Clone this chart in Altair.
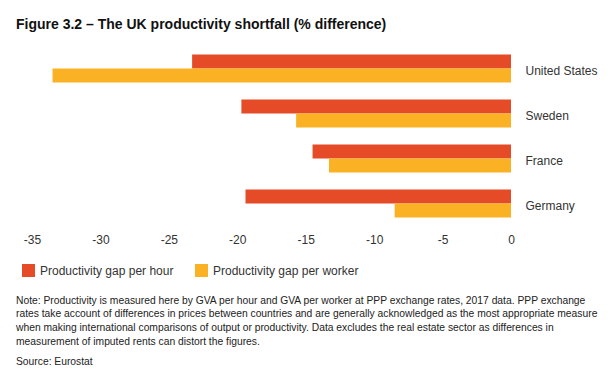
import altair as alt
import pandas as pd

countries = ["United States", "Sweden", "France", "Germany"]
per_hour = [-23.3, -19.7, -14.5, -19.4]
per_worker = [-33.5, -15.7, -13.3, -8.5]
series = ["Productivity gap per hour", "Productivity gap per worker"]
colors = ["#E54B26", "#FBB124"]
x_ticks = [-35, -30, -25, -20, -15, -10, -5, 0]

title_text = "Figure 3.2 \u2013 The UK productivity shortfall (% difference)"
note_lines = [
    "Note: Productivity is measured here by GVA per hour and GVA per worker at PPP exchange rates, 2017 data. PPP exchange",
    "rates take account of differences in prices between countries and are generally acknowledged as the most appropriate measure",
    "when making international comparisons of output or productivity. Data excludes the real estate sector as differences in",
    "measurement of imputed rents can distort the figures.",
]
source_text = "Source: Eurostat"

rows = []
for c, h, w in zip(countries, per_hour, per_worker):
    rows.append({"country": c, "series": series[0], "value": h})
    rows.append({"country": c, "series": series[1], "value": w})
df = pd.DataFrame(rows)

FONT = "Liberation Sans"

bars = alt.Chart(df).mark_bar().encode(
    x=alt.X("value:Q",
            scale=alt.Scale(domain=[-35, 0], nice=False, zero=True),
            axis=alt.Axis(values=x_ticks, title=None, domain=False, ticks=False,
                          grid=False, labelFont=FONT, labelFontSize=12,
                          labelColor="#333333", labelPadding=8, labelFlush=False,
                          labelExpr="'' + datum.value")),
    y=alt.Y("country:N", sort=countries,
            scale=alt.Scale(paddingInner=0.376, paddingOuter=0.188),
            axis=alt.Axis(orient="right", title=None, domain=False, ticks=False,
                          grid=False, labelFont=FONT, labelFontSize=12,
                          labelColor="#333333", labelPadding=14, labelAlign="left",
                          labelOffset=2)),
    yOffset=alt.YOffset("series:N", sort=series, scale=alt.Scale(paddingInner=0, paddingOuter=0)),
    color=alt.Color("series:N", sort=series,
                    scale=alt.Scale(domain=series, range=colors),
                    legend=alt.Legend(orient="none", legendX=-10, legendY=218,
                                      direction="horizontal", title=None,
                                      symbolType="square", symbolSize=169,
                                      symbolStrokeWidth=0, labelFont=FONT,
                                      labelFontSize=12, labelColor="#333333",
                                      columnPadding=21, labelOffset=5)),
)

note = alt.Chart(pd.DataFrame({"t": [note_lines]})).mark_text(
    align="left", baseline="alphabetic", font=FONT, fontSize=10.3,
    lineHeight=13.7, color="#222222"
).encode(text="t", x=alt.value(-16), y=alt.value(257.5))

source = alt.Chart(pd.DataFrame({"t": [source_text]})).mark_text(
    align="left", baseline="alphabetic", font=FONT, fontSize=10.3, color="#222222"
).encode(text="t", x=alt.value(-16), y=alt.value(318.5))

chart = alt.layer(bars, note, source).properties(
    width=479, height=180,
    title=alt.TitleParams(title_text, anchor="start", dx=0, offset=14,
                          font=FONT, fontSize=14, fontWeight="bold", color="#111111"),
    autosize=alt.AutoSizeParams(type="none"),
    padding={"left": 24, "top": 38, "right": 95, "bottom": 144},
).configure_view(stroke=None)

chart.save("out.html", embed_options={"renderer": "svg", "actions": False})
